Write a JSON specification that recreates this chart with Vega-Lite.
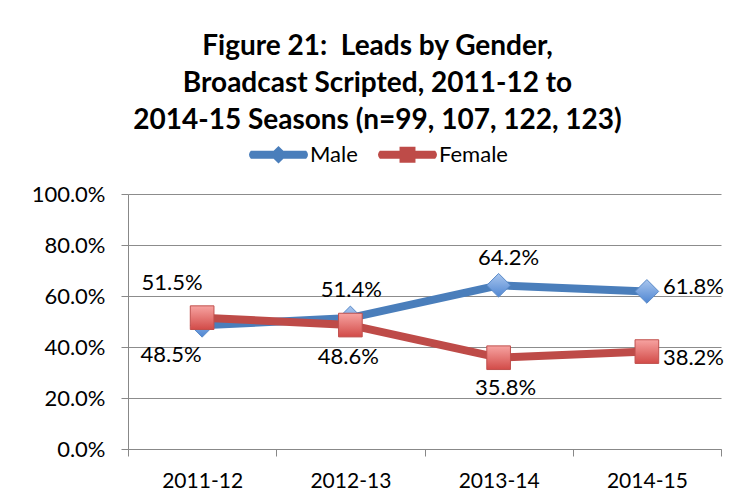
{
  "$schema": "https://vega.github.io/schema/vega-lite/v6.json",
  "width": 593,
  "height": 255,
  "autosize": "none",
  "padding": {"left": 128, "top": 194, "right": 17, "bottom": 51},
  "background": "white",
  "title": {
    "text": ["Figure 21: \u00a0Leads by Gender,", "Broadcast Scripted, 2011-12 to", "2014-15 Seasons (n=99, 107, 122, 123)"],
    "font": "Lato",
    "fontSize": 28,
    "fontWeight": "bold",
    "lineHeight": 37,
    "color": "black",
    "anchor": "middle",
    "frame": "group",
    "dx": -47,
    "offset": -9
  },
  "config": {
    "view": {"stroke": null},
    "font": "Lato",
    "axis": {"labelFont": "Lato", "labelFontSize": 21, "labelColor": "black", "domainColor": "#888888", "tickColor": "#888888", "gridColor": "#8c8c8c", "domainWidth": 1, "tickWidth": 1, "gridWidth": 1},
    "text": {"font": "Lato", "fontSize": 22, "color": "black"}
  },
  "data": {
    "values": [
      {"season": "2011-12", "series": "Male", "pct": 0.485},
      {"season": "2012-13", "series": "Male", "pct": 0.514},
      {"season": "2013-14", "series": "Male", "pct": 0.642},
      {"season": "2014-15", "series": "Male", "pct": 0.618},
      {"season": "2011-12", "series": "Female", "pct": 0.515},
      {"season": "2012-13", "series": "Female", "pct": 0.486},
      {"season": "2013-14", "series": "Female", "pct": 0.358},
      {"season": "2014-15", "series": "Female", "pct": 0.382}
    ]
  },
  "encoding": {
    "x": {
      "field": "season", "type": "ordinal", "title": null,
      "scale": {"paddingInner": 0, "paddingOuter": 0},
      "axis": {"labelAngle": 0, "tickBand": "extent", "tickSize": 7, "labelPadding": 14, "grid": false}
    },
    "y": {
      "field": "pct", "type": "quantitative", "title": null,
      "scale": {"domain": [0, 1], "nice": false},
      "axis": {"values": [0, 0.2, 0.4, 0.6, 0.8, 1], "format": ".1%", "tickSize": 7, "labelPadding": 16, "labelFontSize": 22, "grid": true}
    }
  },
  "layer": [
    {
      "transform": [{"filter": "datum.series == 'Male'"}],
      "mark": {"type": "line", "color": "#4A7EBB", "strokeWidth": 8, "strokeJoin": "round", "strokeCap": "round"}
    },
    {
      "transform": [{"filter": "datum.series == 'Female'"}],
      "mark": {"type": "line", "color": "#BE4B48", "strokeWidth": 8, "strokeJoin": "round", "strokeCap": "round"}
    },
    {
      "transform": [{"filter": "datum.series == 'Male'"}],
      "mark": {"type": "point", "shape": "diamond", "size": 560, "filled": true, "opacity": 1, "stroke": "#5A8AC8", "strokeWidth": 1,
        "fill": {"gradient": "linear", "x1": 0, "y1": 0, "x2": 0, "y2": 1, "stops": [{"offset": 0, "color": "#A9C6EE"}, {"offset": 1, "color": "#4F86D2"}]}}
    },
    {
      "transform": [{"filter": "datum.series == 'Female'"}],
      "mark": {"type": "point", "shape": "square", "size": 560, "filled": true, "opacity": 1, "stroke": "#C0504D", "strokeWidth": 1,
        "fill": {"gradient": "linear", "x1": 0, "y1": 0, "x2": 0, "y2": 1, "stops": [{"offset": 0, "color": "#F7A3A1"}, {"offset": 1, "color": "#D24B48"}]}}
    },
    {
      "transform": [{"filter": "false"}],
      "mark": {"type": "point", "filled": true, "opacity": 1},
      "encoding": {
        "color": {"field": "series", "type": "nominal", "scale": {"domain": ["Male", "Female"], "range": ["#4A7EBB", "#BE4B48"]},
          "legend": {"title": null, "orient": "none", "direction": "horizontal", "legendX": 122, "legendY": -68, "symbolSize": 3249, "symbolStrokeWidth": 0, "labelFont": "Lato", "labelFontSize": 22, "labelColor": "black", "labelOffset": 3, "columnPadding": 20}},
        "shape": {"field": "series", "type": "nominal", "scale": {"domain": ["Male", "Female"], "range": [
          "M-0.97,-0.14 L-0.17,-0.14 L0,-0.31 L0.17,-0.14 L0.97,-0.14 Q1.1,0 0.97,0.14 L0.17,0.14 L0,0.31 L-0.17,0.14 L-0.97,0.14 Q-1.1,0 -0.97,-0.14 Z",
          "M-0.97,-0.14 L-0.28,-0.14 L-0.28,-0.28 L0.28,-0.28 L0.28,-0.14 L0.97,-0.14 Q1.1,0 0.97,0.14 L0.28,0.14 L0.28,0.28 L-0.28,0.28 L-0.28,0.14 L-0.97,0.14 Q-1.1,0 -0.97,-0.14 Z"
        ]}}
      }
    },
    {
      "transform": [{"filter": "datum.series == 'Male' && datum.season == '2011-12'"}],
      "mark": {"type": "text", "dx": -31, "dy": 30},
      "encoding": {"text": {"field": "pct", "type": "quantitative", "format": ".1%"}}
    },
    {
      "transform": [{"filter": "datum.series == 'Female' && datum.season == '2011-12'"}],
      "mark": {"type": "text", "dx": -30, "dy": -35},
      "encoding": {"text": {"field": "pct", "type": "quantitative", "format": ".1%"}}
    },
    {
      "transform": [{"filter": "datum.series == 'Male' && datum.season == '2012-13'"}],
      "mark": {"type": "text", "dx": 1, "dy": -28},
      "encoding": {"text": {"field": "pct", "type": "quantitative", "format": ".1%"}}
    },
    {
      "transform": [{"filter": "datum.series == 'Female' && datum.season == '2012-13'"}],
      "mark": {"type": "text", "dx": -2, "dy": 32},
      "encoding": {"text": {"field": "pct", "type": "quantitative", "format": ".1%"}}
    },
    {
      "transform": [{"filter": "datum.series == 'Male' && datum.season == '2013-14'"}],
      "mark": {"type": "text", "dx": 10, "dy": -27},
      "encoding": {"text": {"field": "pct", "type": "quantitative", "format": ".1%"}}
    },
    {
      "transform": [{"filter": "datum.series == 'Female' && datum.season == '2013-14'"}],
      "mark": {"type": "text", "dx": 7, "dy": 30},
      "encoding": {"text": {"field": "pct", "type": "quantitative", "format": ".1%"}}
    },
    {
      "transform": [{"filter": "datum.season == '2014-15' && datum.series == 'Male'"}],
      "mark": {"type": "text", "align": "left", "dx": 16, "dy": -4},
      "encoding": {"text": {"field": "pct", "type": "quantitative", "format": ".1%"}}
    },
    {
      "transform": [{"filter": "datum.season == '2014-15' && datum.series == 'Female'"}],
      "mark": {"type": "text", "align": "left", "dx": 16, "dy": 6},
      "encoding": {"text": {"field": "pct", "type": "quantitative", "format": ".1%"}}
    }
  ]
}
